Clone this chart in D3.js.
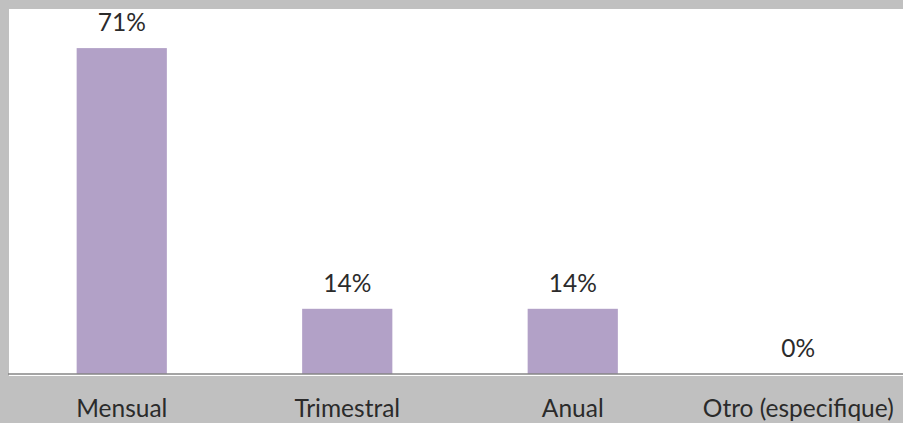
<!DOCTYPE html>
<html>
<head>
<meta charset="utf-8">
<script src="https://cdn.jsdelivr.net/npm/d3@7"></script>
<style>
  html, body { margin: 0; padding: 0; background: #c0c0c0; }
  svg { display: block; }
</style>
</head>
<body>
<svg id="chart" width="903" height="423"></svg>
<script>
const categories = ["Mensual", "Trimestral", "Anual", "Otro (especifique)"];
const values = [71.43, 14.29, 14.29, 0];
const valueLabels = ["71%", "14%", "14%", "0%"];
const yDomainMax = 80;

const W = 903, H = 423;
const plot = { left: 9, top: 9, right: 911, bottom: 374 };

const svg = d3.select("#chart");

svg.append("rect").attr("x", 0).attr("y", 0).attr("width", W).attr("height", H).attr("fill", "#c0c0c0");
svg.append("rect")
  .attr("x", plot.left).attr("y", plot.top)
  .attr("width", W - plot.left).attr("height", plot.bottom - plot.top + 2)
  .attr("fill", "#ffffff");

const x = d3.scaleBand().domain(categories).range([plot.left, plot.right]).paddingInner(0.6).paddingOuter(0.3);
const y = d3.scaleLinear().domain([0, yDomainMax]).range([plot.bottom, plot.top]);

const data = categories.map((c, i) => ({ c, v: values[i], label: valueLabels[i] }));

svg.append("g").selectAll("rect").data(data).join("rect")
  .attr("x", d => x(d.c))
  .attr("y", d => y(d.v))
  .attr("width", x.bandwidth())
  .attr("height", d => y(0) - y(d.v))
  .attr("fill", "#b2a1c7");

// axis
const axis = d3.axisBottom(x).tickSize(0).tickPadding(0);
const ag = svg.append("g").attr("transform", `translate(0,${plot.bottom})`).call(axis);
ag.select(".domain").attr("stroke", "#868686").attr("stroke-width", 1.5).attr("d", `M${plot.left - 1},0H${W}`);
ag.selectAll(".tick text")
  .attr("y", 43).attr("dy", null)
  .attr("fill", "#2b2b2b")
  .style("font-family", "Lato, 'Open Sans', sans-serif")
  .style("font-size", "24.5px");

svg.append("g").selectAll("text").data(data).join("text")
  .attr("x", d => x(d.c) + x.bandwidth() / 2)
  .attr("y", d => y(d.v) - 17)
  .attr("text-anchor", "middle")
  .attr("fill", "#2b2b2b")
  .style("font-family", "Lato, 'Open Sans', sans-serif")
  .style("font-size", "24.5px")
  .text(d => d.label);
</script>
</body>
</html>
